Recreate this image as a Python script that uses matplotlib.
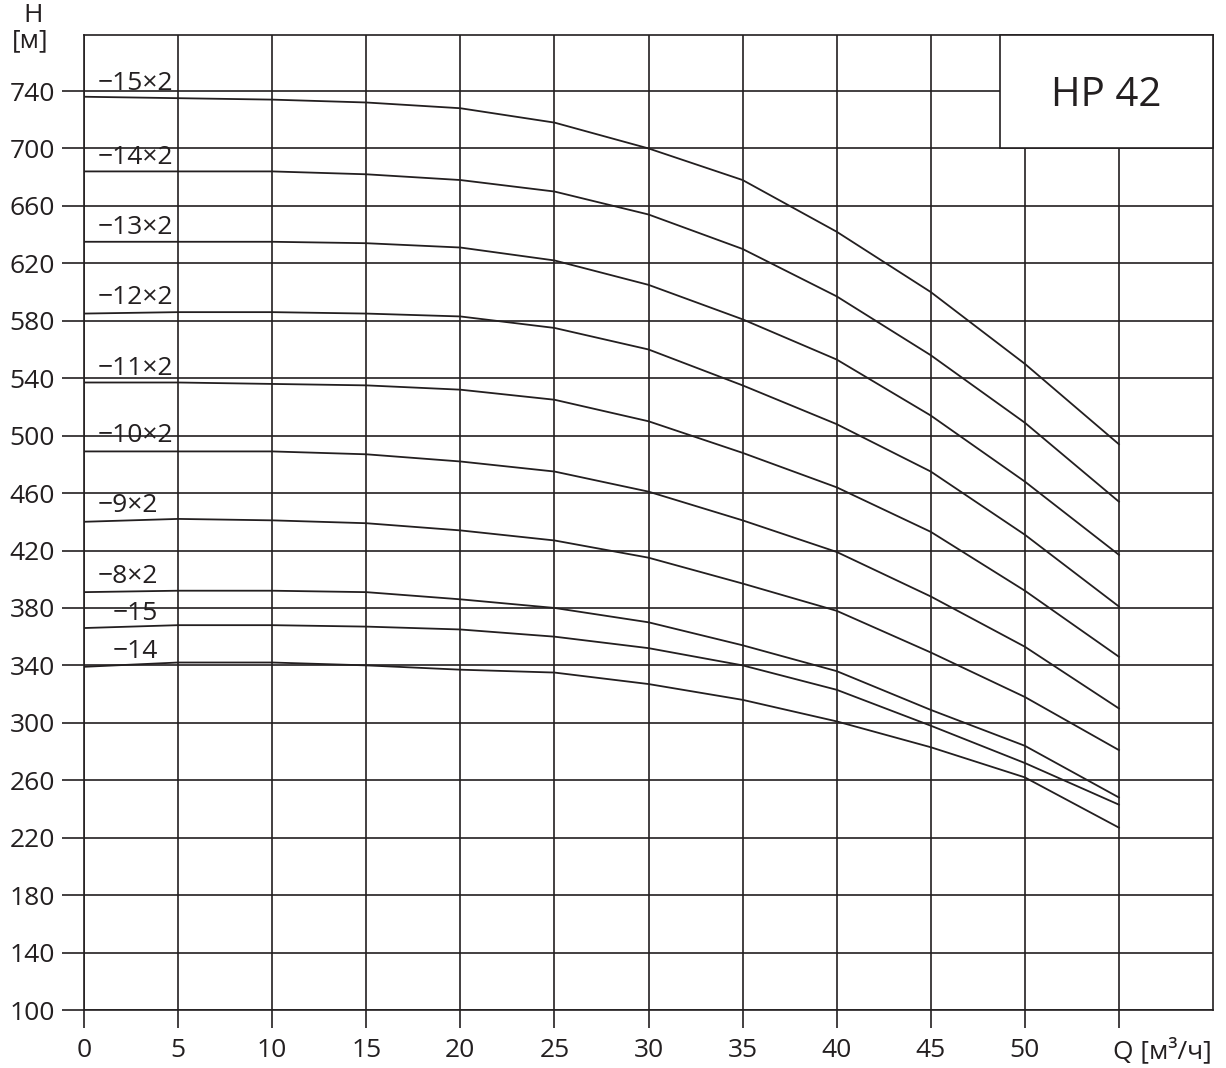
import matplotlib
matplotlib.use("Agg")
import matplotlib.pyplot as plt
from matplotlib.patches import Rectangle

plt.rcParams["font.family"] = ["Open Sans", "DejaVu Sans"]

INK = "#231f20"

q = [0, 5, 10, 15, 20, 25, 30, 35, 40, 45, 50, 55]

h_15x2 = [736, 735, 734, 732, 728, 718, 700, 678, 642, 600, 550, 494]
h_14x2 = [684, 684, 684, 682, 678, 670, 654, 630, 597, 556, 509, 454]
h_13x2 = [635, 635, 635, 634, 631, 622, 605, 581, 553, 514, 468, 417]
h_12x2 = [585, 586, 586, 585, 583, 575, 560, 535, 508, 475, 431, 381]
h_11x2 = [537, 537, 536, 535, 532, 525, 510, 488, 464, 433, 392, 346]
h_10x2 = [489, 489, 489, 487, 482, 475, 461, 441, 419, 388, 353, 310]
h_9x2 = [440, 442, 441, 439, 434, 427, 415, 397, 378, 349, 318, 281]
h_8x2 = [391, 392, 392, 391, 386, 380, 370, 354, 336, 309, 284, 248]
h_15 = [366, 368, 368, 367, 365, 360, 352, 340, 323, 298, 272, 243]
h_14 = [339, 342, 342, 340, 337, 335, 327, 316, 301, 283, 262, 227]

curves = [h_15x2, h_14x2, h_13x2, h_12x2, h_11x2, h_10x2, h_9x2, h_8x2, h_15, h_14]
labels = ["\u221215\u00d72", "\u221214\u00d72", "\u221213\u00d72", "\u221212\u00d72", "\u221211\u00d72",
          "\u221210\u00d72", "\u22129\u00d72", "\u22128\u00d72", "\u221215", "\u221214"]
label_x = [0.75, 0.75, 0.75, 0.75, 0.75, 0.75, 0.75, 0.75, 1.5, 1.5]
label_y = [745, 694, 645, 596, 547, 500, 451, 402, 376, 350]

x_ticks = [0, 5, 10, 15, 20, 25, 30, 35, 40, 45, 50, 55]
x_tick_labels = ["0", "5", "10", "15", "20", "25", "30", "35", "40", "45", "50", ""]
y_ticks = list(range(100, 741, 40))

fig = plt.figure(figsize=(12.26, 10.68), dpi=100)
ax = fig.add_axes([84 / 1226, 1 - 1010 / 1068, (1213 - 84) / 1226, (1010 - 35) / 1068])
ax.set_xlim(0, 60)
ax.set_ylim(100, 779)

ax.set_xticks(x_ticks)
ax.set_xticklabels(x_tick_labels)
ax.set_yticks(y_ticks)
ax.tick_params(axis="x", direction="out", length=13, width=1.2, color=INK, labelsize=19,
               labelcolor=INK, pad=7)
ax.tick_params(axis="y", direction="out", length=16, width=1.2, color=INK, labelsize=19,
               labelcolor=INK, pad=5)
ax.grid(True, color=INK, linewidth=1.2, zorder=1)
ax.set_axisbelow(True)
for s in ax.spines.values():
    s.set_color(INK)
    s.set_linewidth(1.2)

for h in curves:
    ax.plot(q, h, color=INK, linewidth=1.3, zorder=3)

for lab, lx, ly in zip(labels, label_x, label_y):
    ax.text(lx, ly, lab, fontsize=19, color=INK, ha="left", va="center", zorder=4)

# title box in the upper right corner
ax.add_patch(Rectangle((48.7, 700), 60 - 48.7, 79, facecolor="white", edgecolor=INK,
                       linewidth=1.2, zorder=5, clip_on=False))
ax.text(54.35, 737, "HP 42", fontsize=29, color=INK, ha="center", va="center", zorder=6)

ax.text(54.7, 91 - 0.695 * 28, "Q [м³/ч]", fontsize=19, color=INK, ha="left", va="center",
        clip_on=False)
fig.text(33 / 1226, 1 - 15 / 1068, "H", fontsize=19, color=INK, ha="center", va="center")
fig.text(30 / 1226, 1 - 41 / 1068, "[м]", fontsize=19, color=INK, ha="center", va="center")

fig.savefig("out.png", dpi=100)
